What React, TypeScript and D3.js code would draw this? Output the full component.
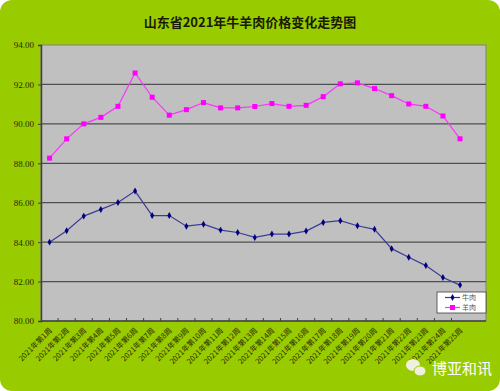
import { useEffect, useRef } from 'react'
import * as d3 from 'd3'

const weeks = d3.range(1, 26).map((w) => `2021年第${w}周`)
const beef = [84.0, 84.58, 85.32, 85.66, 86.01, 86.59, 85.35, 85.35, 84.81, 84.91, 84.61, 84.49, 84.24, 84.41, 84.41, 84.56, 85.0, 85.09, 84.83, 84.65, 83.67, 83.23, 82.81, 82.21, 81.82]
const lamb = [88.26, 89.24, 90.0, 90.33, 90.89, 92.58, 91.35, 90.44, 90.72, 91.08, 90.81, 90.81, 90.88, 91.03, 90.89, 90.94, 91.38, 92.03, 92.08, 91.79, 91.43, 91.01, 90.89, 90.4, 89.24]
const yTicks = [80, 82, 84, 86, 88, 90, 92, 94]
const seriesNames = ['牛肉', '羊肉']

const W = 500
const H = 391
const serif = '"Liberation Serif", "DejaVu Serif", "Noto Sans CJK SC", serif'
const cjk = '"Noto Sans CJK SC", "Liberation Serif", serif'

export default function App() {
  const ref = useRef<SVGSVGElement | null>(null)

  useEffect(() => {
    if (!ref.current) return
    const svg = d3.select(ref.current)
    svg.selectAll('*').remove()

    const plot = { left: 41, right: 486, top: 45, bottom: 321 }

    const x = d3.scaleBand<string>().domain(weeks).range([plot.left, 468.6])
    const cx = (d: string) => (x(d) ?? 0) + x.bandwidth() / 2
    const y = d3.scaleLinear().domain([80, 94]).range([plot.bottom, plot.top])

    // background
    svg.append('rect').attr('width', W).attr('height', H).attr('fill', '#ffffff')
    svg.append('rect').attr('x', 0).attr('y', 0).attr('width', W).attr('height', H)
      .attr('rx', 12).attr('fill', '#99cc00')

    svg.append('text')
      .attr('x', 250).attr('y', 27)
      .attr('text-anchor', 'middle')
      .attr('font-family', cjk)
      .attr('font-weight', 'bold')
      .attr('font-size', 13)
      .attr('fill', '#1a1a00')
      .text('山东省2021年牛羊肉价格变化走势图')

    // plot area
    svg.append('rect')
      .attr('x', plot.left).attr('y', plot.top)
      .attr('width', plot.right - plot.left).attr('height', plot.bottom - plot.top)
      .attr('fill', '#c0c0c0').attr('stroke', '#808080').attr('stroke-width', 1)

    svg.append('g').selectAll('line')
      .data(yTicks.slice(1, -1))
      .join('line')
      .attr('x1', plot.left).attr('x2', plot.right)
      .attr('y1', (d) => y(d)).attr('y2', (d) => y(d))
      .attr('stroke', '#505050').attr('stroke-width', 1.2)

    // y axis
    const yAxis = svg.append('g')
      .attr('transform', `translate(${plot.left},0)`)
      .call(d3.axisLeft(y).tickValues(yTicks).tickFormat(d3.format('.2f')).tickSize(3).tickPadding(4))
    yAxis.select('.domain').attr('stroke', '#404040').attr('stroke-width', 1.5)
    yAxis.selectAll('line').attr('stroke', '#404040')
    yAxis.selectAll('text').attr('fill', '#2a2a00').style('font-size', '9px').style('font-family', serif)

    // x axis
    svg.append('line')
      .attr('x1', plot.left).attr('x2', plot.right)
      .attr('y1', plot.bottom).attr('y2', plot.bottom)
      .attr('stroke', '#404040').attr('stroke-width', 1.5)
    svg.append('g').selectAll('line')
      .data(weeks.slice(0, -1))
      .join('line')
      .attr('x1', (d) => (x(d) ?? 0) + x.bandwidth()).attr('x2', (d) => (x(d) ?? 0) + x.bandwidth())
      .attr('y1', plot.bottom - 3).attr('y2', plot.bottom)
      .attr('stroke', '#404040')

    svg.append('g').selectAll('text')
      .data(weeks)
      .join('text')
      .attr('transform', (d) => `translate(${cx(d) + 3},${plot.bottom + 10}) rotate(-45)`)
      .attr('text-anchor', 'end')
      .attr('font-family', cjk)
      .attr('font-size', 7.5)
      .attr('fill', '#2a2a00')
      .text((d) => d)

    // lines
    const line = d3.line<number>()
      .x((_, i) => cx(weeks[i]))
      .y((d) => y(d))

    svg.append('path').datum(lamb)
      .attr('fill', 'none').attr('stroke', '#ff33ff').attr('stroke-width', 1.2).attr('d', line)
    svg.append('g').selectAll('rect')
      .data(lamb)
      .join('rect')
      .attr('x', (_, i) => cx(weeks[i]) - 2.5).attr('y', (d) => y(d) - 2.5)
      .attr('width', 5).attr('height', 5)
      .attr('fill', '#ff00ff')

    svg.append('path').datum(beef)
      .attr('fill', 'none').attr('stroke', '#3c3c96').attr('stroke-width', 1.2).attr('d', line)
    const diamond = d3.symbol().type(d3.symbolDiamond).size(14)
    svg.append('g').selectAll('path')
      .data(beef)
      .join('path')
      .attr('transform', (d, i) => `translate(${cx(weeks[i])},${y(d)})`)
      .attr('d', diamond)
      .attr('fill', '#000080')

    // legend
    const lg = svg.append('g').attr('transform', 'translate(437,292)')
    lg.append('rect').attr('width', 49).attr('height', 21)
      .attr('fill', '#ffffff').attr('stroke', '#404040').attr('stroke-width', 0.8)
    seriesNames.forEach((name, i) => {
      const yy = 5.5 + i * 10
      const color = i === 0 ? '#3c3c96' : '#ff33ff'
      lg.append('line').attr('x1', 8).attr('x2', 23).attr('y1', yy).attr('y2', yy)
        .attr('stroke', color).attr('stroke-width', 1.2)
      if (i === 0) {
        lg.append('path').attr('transform', `translate(15.5,${yy})`).attr('d', diamond).attr('fill', '#000080')
      } else {
        lg.append('rect').attr('x', 13).attr('y', yy - 2.5).attr('width', 5).attr('height', 5).attr('fill', '#ff00ff')
      }
      lg.append('text').attr('x', 25).attr('y', yy + 2.5)
        .attr('font-family', cjk).attr('font-size', 7).attr('fill', '#555555').text(name)
    })

    // watermark
    const wm = svg.append('g').attr('transform', 'translate(413,368)')
    wm.append('ellipse').attr('cx', 0).attr('cy', -3).attr('rx', 7).attr('ry', 6).attr('fill', '#f0f0e0')
    wm.append('ellipse').attr('cx', 7).attr('cy', 3).attr('rx', 6).attr('ry', 5)
      .attr('fill', '#f0f0e0').attr('stroke', '#99cc00').attr('stroke-width', 1)
    wm.append('text').attr('x', 19).attr('y', 6)
      .attr('font-family', '"Noto Sans CJK SC", sans-serif').attr('font-size', 15)
      .attr('fill', '#ffffff').text('博亚和讯')
  }, [])

  return (
    <svg
      ref={ref}
      width={W}
      height={H}
      role="img"
      aria-label="山东省2021年牛羊肉价格变化走势图"
      style={{ position: 'absolute', left: 0, top: 0, display: 'block' }}
    />
  )
}
